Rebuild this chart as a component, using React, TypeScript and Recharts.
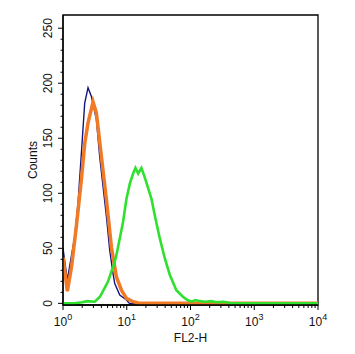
import { LineChart, Line, XAxis, YAxis, ReferenceArea } from "recharts";

// FL2-H channel positions and counts
const isotypeX = [1, 1.17, 1.53, 1.72, 1.94, 2.19, 2.47, 2.79, 3.34, 3.77, 4.25, 4.8, 5.41, 6.1, 6.48, 7.77, 9.9, 11, 10000];
const isotypeY = [50, 21, 61, 91, 136, 182, 196, 188, 167, 133, 106, 79, 48, 27, 18, 7.5, 3, 0, 0];

const controlX = [1, 1.17, 1.36, 1.62, 1.94, 2.19, 2.47, 2.96, 3.34, 4.01, 4.8, 5.75, 6.89, 8.26, 9.9, 12.6, 16, 10000];
const controlY = [42, 11, 33, 70, 112, 145, 164, 183, 173, 133, 94, 51, 24, 12, 4.5, 1.5, 0, 0];

const stainedX = [1, 1.5, 2.0, 2.4, 3.15, 3.8, 4.51, 5.1, 5.75, 6.3, 6.89, 7.77, 8.75, 9.9, 11.2, 12.6, 13.7, 15.1, 17, 18.5, 20.3, 24.4, 27.5, 33, 39.5, 47.3, 60, 76, 90, 103, 120, 140, 170, 210, 260, 320, 370, 420, 10000];
const stainedY = [0, 0, 1, 2, 1.5, 6, 14, 20, 29, 35, 44, 59, 74, 95, 109, 118, 123, 118, 123, 117, 110, 95, 80, 59, 41, 26, 12, 6, 3, 1.5, 3, 2, 1.5, 2, 1, 1.5, 1, 0, 0];

const xMajor = [1, 10, 100, 1000, 10000];
const xTicks: number[] = [];
for (let d = 0; d < 4; d++) {
  for (let m = 1; m < 10; m++) xTicks.push(m * Math.pow(10, d));
}
xTicks.push(10000);

const yTicks: number[] = [];
for (let v = 0; v <= 250; v += 10) yTicks.push(v);

const zip = (xs: number[], ys: number[]) => xs.map((x, i) => ({ x, y: ys[i] }));
const isotype = zip(isotypeX, isotypeY);
const control = zip(controlX, controlY);
const stained = zip(stainedX, stainedY);

const font = "'Liberation Sans', Arial, sans-serif";

function XTick(props: any) {
  const { x, y, payload } = props;
  const v = payload.value as number;
  const major = xMajor.includes(v);
  const exp = Math.round(Math.log10(v));
  return (
    <g>
      <line x1={x} x2={x} y1={y} y2={y + (major ? 5 : 3)} stroke="#000" strokeWidth={1} />
      {major && (
        <text x={x} y={y + 21} textAnchor="middle" fontFamily={font} fontSize={12} fill="#111">
          10
          <tspan dy={-6} fontSize={9}>{exp}</tspan>
        </text>
      )}
    </g>
  );
}

function YTick(props: any) {
  const { x, y, payload } = props;
  const v = payload.value as number;
  const major = v % 50 === 0;
  const tx = x - 11;
  return (
    <g>
      <line x1={x - (major ? 5 : 2.5)} x2={x} y1={y} y2={y} stroke="#000" strokeWidth={1} />
      {major && (
        <text
          x={tx}
          y={y}
          transform={`rotate(-90 ${tx} ${y})`}
          textAnchor="middle"
          fontFamily={font}
          fontSize={12}
          fill="#111"
        >
          {v}
        </text>
      )}
    </g>
  );
}

export default function App() {
  return (
    <div style={{ position: "absolute", left: 0, top: 0, background: "#fff" }}>
      <LineChart width={355} height={354} margin={{ top: 15, right: 37, bottom: 0, left: 0 }}>
        <XAxis
          dataKey="x"
          type="number"
          scale="log"
          domain={[1, 10000]}
          allowDataOverflow
          ticks={xTicks}
          interval={0}
          tick={<XTick />}
          tickLine={false}
          tickSize={0}
          tickMargin={0}
          height={49}
          axisLine={{ stroke: "#000", strokeWidth: 1.3 }}
          label={{
            content: (p: any) => (
              <text
                x={p.viewBox.x + p.viewBox.width / 2}
                y={p.viewBox.y + 37}
                textAnchor="middle"
                fontFamily={font}
                fontSize={12}
                fill="#111"
              >
                FL2-H
              </text>
            ),
          }}
        />
        <YAxis
          type="number"
          domain={[-1.5, 262]}
          allowDataOverflow
          ticks={yTicks}
          interval={0}
          tick={<YTick />}
          tickLine={false}
          tickSize={0}
          tickMargin={0}
          width={63}
          axisLine={{ stroke: "#000", strokeWidth: 1.3 }}
          label={{
            content: (p: any) => {
              const cx = p.viewBox.x + 37;
              const cy = p.viewBox.y + p.viewBox.height / 2;
              return (
                <text
                  x={cx}
                  y={cy}
                  transform={`rotate(-90 ${cx} ${cy})`}
                  textAnchor="middle"
                  fontFamily={font}
                  fontSize={12}
                  fill="#111"
                >
                  Counts
                </text>
              );
            },
          }}
        />
        <Line data={isotype} dataKey="y" type="linear" stroke="#14147e" strokeWidth={1.4} dot={false} activeDot={false} isAnimationActive={false} />
        <Line data={control} dataKey="y" type="linear" stroke="#f07a26" strokeWidth={3.5} dot={false} activeDot={false} isAnimationActive={false} />
        <Line data={stained} dataKey="y" type="linear" stroke="#2fe02f" strokeWidth={2.6} dot={false} activeDot={false} isAnimationActive={false} />
        <ReferenceArea x1={1} x2={10000} y1={-1.5} y2={262} fill="none" stroke="#000" strokeWidth={1.3} ifOverflow="visible" />
      </LineChart>
    </div>
  );
}
